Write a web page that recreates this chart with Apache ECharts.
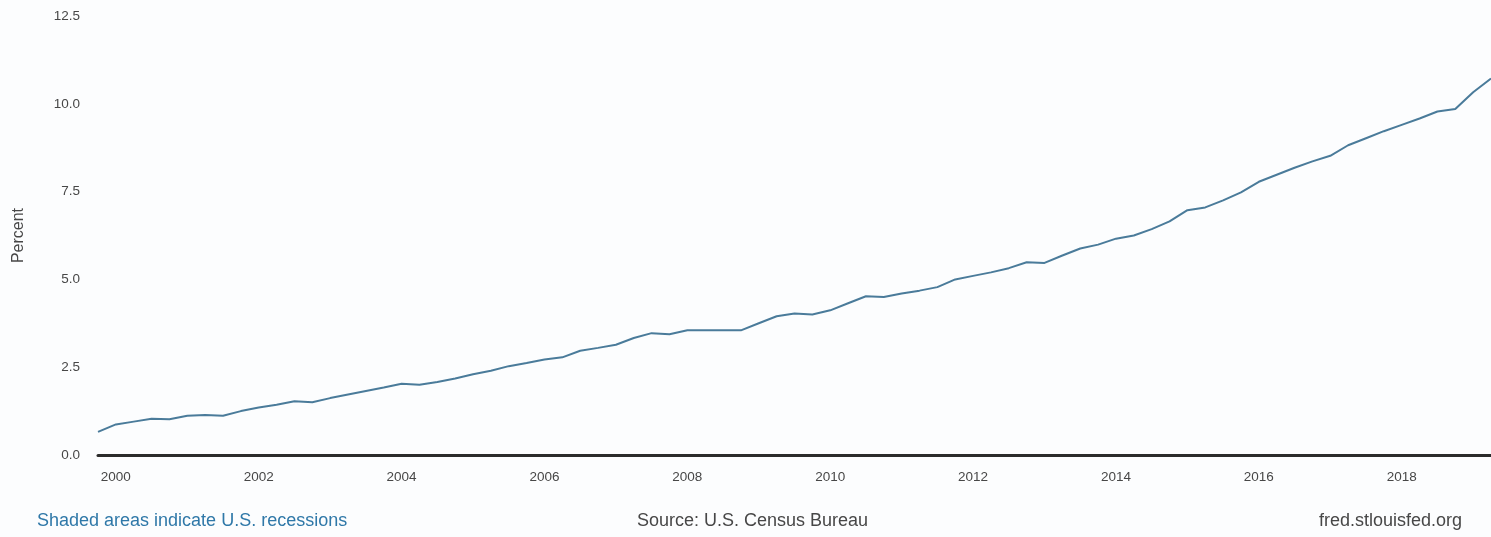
<!DOCTYPE html>
<html>
<head>
<meta charset="utf-8">
<title>E-commerce share of retail sales</title>
<script src="https://cdn.jsdelivr.net/npm/echarts@6/dist/echarts.min.js"></script>
<style>
  html, body { margin: 0; padding: 0; background: #fcfdfe; }
  #chart { width: 1491px; height: 537px; }
</style>
</head>
<body>
<div id="chart"></div>
<script>
// quarterly, 1999 Q4 .. 2019 Q2
const startYear = 1999
const startQuarter = 4
const percentValues = [
  0.66,
  0.87, 0.95, 1.03, 1.02,
  1.12, 1.14, 1.12, 1.25,
  1.35, 1.43, 1.53, 1.50,
  1.62, 1.72, 1.82, 1.92,
  2.03, 2.00, 2.08, 2.18,
  2.30, 2.40, 2.53, 2.62,
  2.72, 2.78, 2.97, 3.05,
  3.14, 3.33, 3.47, 3.44,
  3.55, 3.55, 3.55, 3.55,
  3.75, 3.95, 4.03, 4.00,
  4.12, 4.32, 4.52, 4.50,
  4.60, 4.68, 4.78, 5.00,
  5.10, 5.20, 5.32, 5.49,
  5.47, 5.68, 5.88, 5.99,
  6.16, 6.25, 6.43, 6.65,
  6.97, 7.05, 7.25, 7.48,
  7.78, 7.98, 8.18, 8.36,
  8.52, 8.82, 9.02, 9.22,
  9.40, 9.58, 9.78, 9.85,
  10.33, 10.72,
]
const yearLabels = ['2000', '2002', '2004', '2006', '2008', '2010', '2012', '2014', '2016', '2018']
const yTicks = [0, 2.5, 5, 7.5, 10, 12.5]

const quarters = percentValues.map((_, i) => {
  const q = startQuarter - 1 + i
  const year = startYear + Math.floor(q / 4)
  return year + '-Q' + ((q % 4) + 1)
})

const FONT = 'Liberation Sans, Arial, sans-serif'

const chart = echarts.init(document.getElementById('chart'))

const option = {
  backgroundColor: '#fcfdfe',
  animation: false,
  grid: {
    left: 98,
    right: 0,
    top: 16,
    bottom: 82,
    containLabel: false,
    outerBoundsMode: 'none',
  },
  xAxis: {
    type: 'category',
    data: quarters,
    boundaryGap: false,
    axisLine: { lineStyle: { color: '#2b2b2b', width: 3 } },
    axisTick: { show: false },
    axisLabel: {
      color: '#474747',
      fontSize: 13.5,
      fontFamily: FONT,
      margin: 15,
      interval: (idx, val) => {
        const [y, q] = val.split('-Q')
        return q === '1' && yearLabels.includes(y)
      },
      formatter: (val) => val.split('-Q')[0],
    },
    splitLine: { show: false },
  },
  yAxis: {
    type: 'value',
    min: yTicks[0],
    max: yTicks[yTicks.length - 1],
    interval: 2.5,
    name: 'Percent',
    nameLocation: 'middle',
    nameGap: 71,
    nameTextStyle: { color: '#474747', fontSize: 16, fontFamily: FONT },
    axisLine: { show: false },
    axisTick: { show: false },
    splitLine: { show: false },
    axisLabel: {
      color: '#474747',
      fontSize: 13.5,
      fontFamily: FONT,
      margin: 18,
      formatter: (v) => v.toFixed(1),
    },
  },
  series: [
    {
      type: 'line',
      data: percentValues,
      showSymbol: false,
      lineStyle: { color: '#4a7b9a', width: 2 },
    },
  ],
  graphic: [
    {
      type: 'text',
      left: 37,
      top: 512,
      style: { text: 'Shaded areas indicate U.S. recessions', fill: '#2f78a8', fontSize: 18, fontFamily: FONT },
    },
    {
      type: 'text',
      left: 637,
      top: 512,
      style: { text: 'Source: U.S. Census Bureau', fill: '#474747', fontSize: 18, fontFamily: FONT },
    },
    {
      type: 'text',
      right: 29,
      top: 512,
      style: { text: 'fred.stlouisfed.org', fill: '#474747', fontSize: 18, fontFamily: FONT },
    },
  ],
}

chart.setOption(option)
</script>
</body>
</html>
